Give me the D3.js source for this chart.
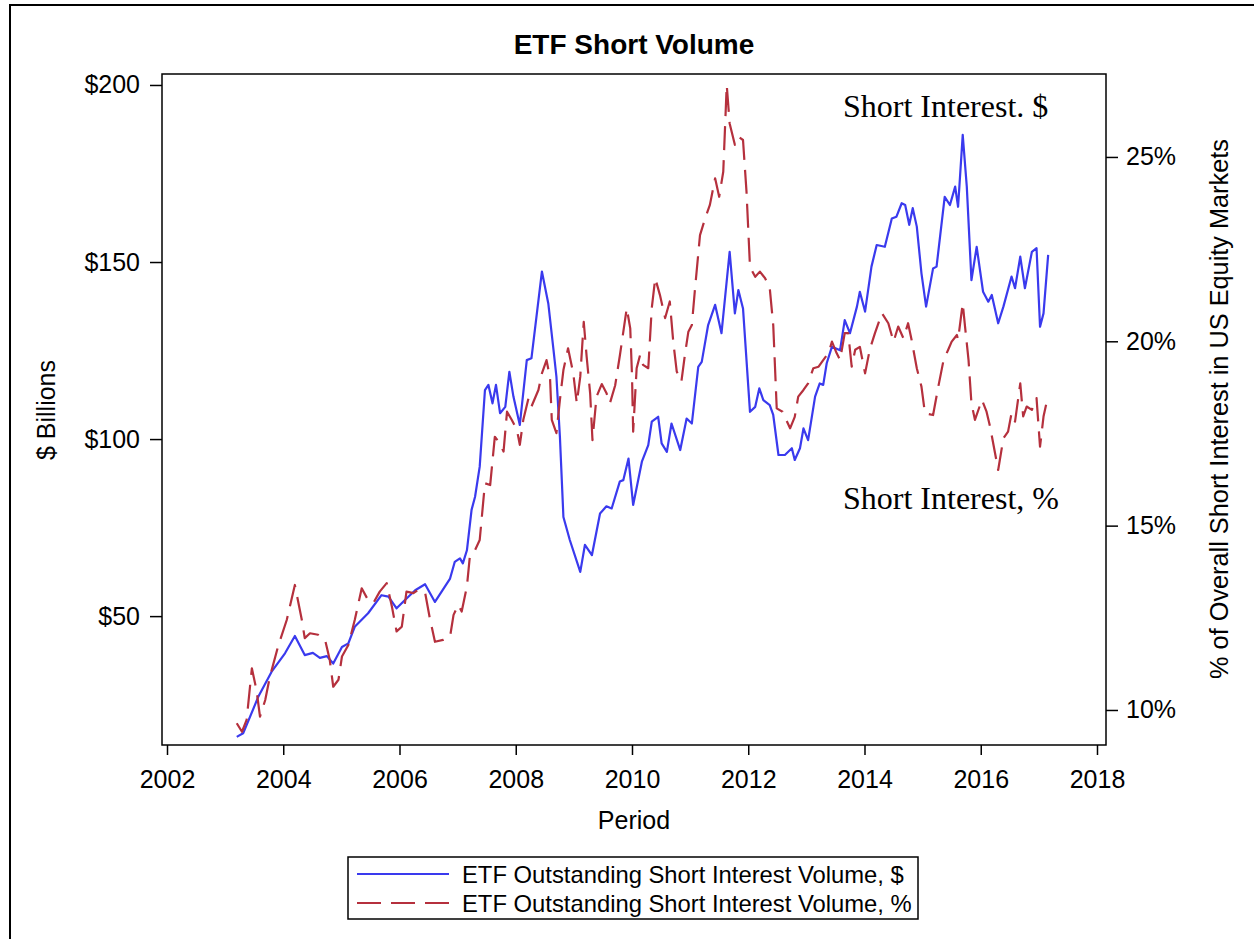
<!DOCTYPE html>
<html>
<head>
<meta charset="utf-8">
<script src="https://cdn.jsdelivr.net/npm/d3@7"></script>
<style>
	body { margin: 0; background: #fff; }
	text { font-family: "Liberation Sans", Arial, sans-serif; fill: #000; }
	.note { font-family: "Liberation Serif", "Times New Roman", serif; }
</style>
</head>
<body>
<svg id="chart" width="1254" height="939"></svg>
<script>
var title = 'ETF Short Volume';
var xLabel = 'Period';
var leftLabel = '$ Billions';
var rightLabel = '% of Overall Short Interest in US Equity Markets';
var legendLabels = ['ETF Outstanding Short Interest Volume, $', 'ETF Outstanding Short Interest Volume, %'];
var notes = ['Short Interest. $', 'Short Interest, %'];

var yearTicks = [2002, 2004, 2006, 2008, 2010, 2012, 2014, 2016, 2018];
var dollarTicks = [50, 100, 150, 200];
var pctTicks = [10, 15, 20, 25];

// short interest in $ billions
var dollarDates = [2003.20, 2003.31, 2003.57, 2003.80, 2004.03, 2004.20, 2004.37, 2004.51, 2004.63, 2004.75,
	2004.86, 2005.01, 2005.12, 2005.23, 2005.46, 2005.69, 2005.81, 2005.95, 2006.09, 2006.27,
	2006.44, 2006.61, 2006.87, 2006.95, 2007.04, 2007.09, 2007.16, 2007.24, 2007.30, 2007.38,
	2007.47, 2007.53, 2007.60, 2007.66, 2007.73, 2007.82, 2007.89, 2007.96, 2008.07, 2008.19,
	2008.27, 2008.45, 2008.56, 2008.65, 2008.70, 2008.76, 2008.82, 2008.93, 2009.11, 2009.19,
	2009.31, 2009.45, 2009.56, 2009.65, 2009.79, 2009.85, 2009.94, 2010.02, 2010.17, 2010.28,
	2010.34, 2010.45, 2010.51, 2010.60, 2010.68, 2010.83, 2010.94, 2011.03, 2011.14, 2011.20,
	2011.31, 2011.43, 2011.54, 2011.68, 2011.77, 2011.83, 2011.91, 2012.03, 2012.12, 2012.19,
	2012.26, 2012.37, 2012.43, 2012.52, 2012.63, 2012.75, 2012.80, 2012.89, 2012.95, 2013.03,
	2013.15, 2013.23, 2013.29, 2013.35, 2013.44, 2013.58, 2013.66, 2013.75, 2013.87, 2013.92,
	2014.01, 2014.12, 2014.21, 2014.35, 2014.47, 2014.55, 2014.64, 2014.70, 2014.77, 2014.83,
	2014.90, 2014.98, 2015.06, 2015.18, 2015.24, 2015.38, 2015.47, 2015.56, 2015.61, 2015.69,
	2015.76, 2015.84, 2015.93, 2016.04, 2016.13, 2016.19, 2016.30, 2016.39, 2016.53, 2016.59,
	2016.68, 2016.76, 2016.88, 2016.96, 2017.02, 2017.08, 2017.16];
var dollarValues = [15.9, 16.9, 27.2, 34.3, 39.5, 44.4, 39.0, 39.6, 38.2, 38.7,
	36.6, 41.3, 42.3, 47.0, 50.8, 55.9, 55.5, 52.2, 54.5, 57.3,
	59.0, 54.0, 60.6, 65.3, 66.3, 64.9, 68.6, 80.0, 83.7, 92.2,
	113.8, 115.3, 110.1, 115.3, 107.3, 109.1, 119.0, 112.0, 104.0, 122.3,
	122.8, 147.3, 138.3, 125.1, 117.6, 100.6, 78.0, 71.5, 62.5, 70.1,
	67.2, 79.0, 81.0, 80.4, 88.0, 88.4, 94.5, 81.4, 93.6, 98.3,
	104.9, 106.3, 98.8, 96.4, 104.4, 96.9, 105.8, 104.4, 120.4, 121.8,
	132.2, 137.9, 129.9, 152.9, 135.5, 142.1, 136.9, 107.7, 109.1, 114.3,
	111.0, 109.6, 106.8, 95.5, 95.5, 97.4, 94.1, 97.4, 103.0, 99.7,
	112.0, 115.7, 115.3, 121.4, 126.1, 125.1, 133.6, 129.9, 137.4, 141.6,
	136.0, 148.7, 154.8, 154.3, 162.3, 162.8, 166.6, 166.1, 160.5, 165.2,
	160.0, 146.8, 137.4, 148.2, 148.7, 168.4, 166.1, 171.3, 165.6, 185.9,
	171.3, 144.9, 154.3, 141.6, 138.8, 140.7, 132.7, 137.4, 145.9, 142.6,
	151.5, 142.6, 152.9, 153.9, 131.7, 135.5, 152.0];

// share of overall US short interest, %
var pctDates = [2003.20, 2003.29, 2003.37, 2003.46, 2003.54, 2003.60, 2003.69, 2003.77, 2003.91, 2004.06,
	2004.20, 2004.32, 2004.37, 2004.46, 2004.60, 2004.72, 2004.80, 2004.86, 2004.95, 2005.01,
	2005.12, 2005.23, 2005.35, 2005.46, 2005.55, 2005.66, 2005.78, 2005.87, 2005.95, 2006.04,
	2006.12, 2006.24, 2006.32, 2006.44, 2006.52, 2006.61, 2006.75, 2006.87, 2006.93, 2007.01,
	2007.07, 2007.16, 2007.21, 2007.30, 2007.38, 2007.47, 2007.56, 2007.64, 2007.73, 2007.79,
	2007.85, 2007.93, 2008.02, 2008.07, 2008.13, 2008.22, 2008.27, 2008.39, 2008.45, 2008.53,
	2008.59, 2008.62, 2008.70, 2008.76, 2008.82, 2008.90, 2008.99, 2009.05, 2009.11, 2009.17,
	2009.22, 2009.28, 2009.32, 2009.39, 2009.48, 2009.56, 2009.62, 2009.71, 2009.79, 2009.91,
	2009.97, 2010.00, 2010.02, 2010.08, 2010.14, 2010.19, 2010.28, 2010.34, 2010.40, 2010.48,
	2010.57, 2010.65, 2010.71, 2010.77, 2010.85, 2010.91, 2010.97, 2011.03, 2011.08, 2011.17,
	2011.26, 2011.34, 2011.43, 2011.50, 2011.57, 2011.63, 2011.68, 2011.77, 2011.83, 2011.91,
	2011.97, 2012.03, 2012.12, 2012.20, 2012.29, 2012.37, 2012.43, 2012.49, 2012.59, 2012.72,
	2012.80, 2012.86, 2012.95, 2013.03, 2013.12, 2013.21, 2013.29, 2013.38, 2013.44, 2013.52,
	2013.58, 2013.66, 2013.72, 2013.78, 2013.84, 2013.92, 2014.01, 2014.09, 2014.18, 2014.30,
	2014.41, 2014.50, 2014.58, 2014.67, 2014.75, 2014.81, 2014.90, 2014.98, 2015.04, 2015.18,
	2015.27, 2015.36, 2015.44, 2015.50, 2015.59, 2015.61, 2015.69, 2015.73, 2015.79, 2015.84,
	2015.90, 2016.02, 2016.10, 2016.16, 2016.30, 2016.39, 2016.47, 2016.53, 2016.59, 2016.68,
	2016.73, 2016.79, 2016.88, 2016.96, 2017.02, 2017.08, 2017.16];
var pctValues = [9.64, 9.41, 9.73, 11.13, 10.54, 9.82, 10.27, 10.90, 11.72, 12.44,
	13.39, 12.44, 11.95, 12.08, 12.04, 11.90, 11.36, 10.63, 10.82, 11.45,
	11.76, 12.44, 13.30, 12.98, 12.90, 13.21, 13.44, 12.80, 12.13, 12.26,
	13.21, 13.17, 13.26, 13.19, 12.50, 11.85, 11.90, 11.99, 12.58, 12.85,
	12.67, 13.35, 14.16, 14.34, 14.61, 16.15, 16.10, 17.41, 17.23, 17.01,
	18.09, 17.87, 17.60, 17.19, 17.87, 18.46, 18.23, 18.68, 19.13, 19.49,
	19.00, 17.87, 17.51, 18.41, 19.22, 19.81, 19.13, 18.32, 19.04, 20.53,
	19.58, 18.59, 17.32, 18.50, 18.84, 18.60, 18.32, 18.80, 19.60, 20.90,
	20.35, 19.09, 17.55, 19.27, 19.63, 19.36, 19.27, 20.90, 21.71, 21.26,
	20.63, 21.08, 19.99, 19.18, 18.91, 19.63, 20.26, 20.44, 21.35, 22.88,
	23.34, 23.70, 24.42, 23.92, 24.60, 26.95, 25.91, 25.33, 25.55, 25.46,
	24.06, 22.02, 21.75, 21.89, 21.71, 21.44, 20.44, 18.18, 18.09, 17.64,
	17.95, 18.50, 18.68, 18.86, 19.27, 19.31, 19.49, 19.68, 19.99, 19.68,
	19.49, 20.22, 20.22, 19.31, 19.77, 19.85, 19.13, 19.77, 20.22, 20.76,
	20.49, 19.99, 20.40, 20.08, 20.49, 20.04, 19.27, 18.77, 18.05, 18.00,
	18.77, 19.49, 19.77, 19.99, 20.17, 20.04, 21.03, 20.40, 19.49, 18.32,
	17.87, 18.41, 18.09, 17.69, 16.51, 17.37, 17.55, 18.05, 17.82, 18.86,
	17.96, 18.23, 18.14, 18.46, 17.14, 17.96, 18.54];

var blue = '#3a3aee';
var red = '#b5303d';
var dash = '24,10';

var frame = { left: 162, top: 74, right: 1106, bottom: 745 };

var svg = d3.select('#chart');

var x = d3.scaleLinear().domain([2001.914, 2018.155]).range([frame.left, frame.right]);
var yDollar = d3.scaleLinear().domain([13.6, 203.1]).range([frame.bottom, frame.top]);
var yPct = d3.scaleLinear().domain([9.05, 27.25]).range([frame.bottom, frame.top]);

// outer border of the picture (top and left only are visible)
svg.append('path')
	.attr('d', 'M10,939V5H1254')
	.attr('fill', 'none')
	.attr('stroke', '#000')
	.attr('stroke-width', 2);

svg.append('text')
	.attr('x', (frame.left + frame.right) / 2)
	.attr('y', 54)
	.attr('text-anchor', 'middle')
	.style('font-size', '28px')
	.style('font-weight', 'bold')
	.text(title);

var styleAxis = function(g) {
	g.select('.domain').remove();
	g.selectAll('.tick line').attr('stroke', '#000').attr('stroke-width', 1.5);
	g.selectAll('.tick text').style('font-size', '25px').attr('fill', '#000');
}

svg.append('g')
	.attr('transform', 'translate(0,' + frame.bottom + ')')
	.call(d3.axisBottom(x).tickValues(yearTicks).tickFormat(d3.format('d')).tickSize(10).tickPadding(15))
	.call(styleAxis);

svg.append('g')
	.attr('transform', 'translate(' + frame.left + ',0)')
	.call(d3.axisLeft(yDollar).tickValues(dollarTicks).tickFormat(function(d) { return '$' + d; }).tickSize(12).tickPadding(10))
	.call(styleAxis);

svg.append('g')
	.attr('transform', 'translate(' + frame.right + ',0)')
	.call(d3.axisRight(yPct).tickValues(pctTicks).tickFormat(function(d) { return d + '%'; }).tickSize(12).tickPadding(8))
	.call(styleAxis);

svg.append('text')
	.attr('x', (frame.left + frame.right) / 2)
	.attr('y', 829)
	.attr('text-anchor', 'middle')
	.style('font-size', '25px')
	.text(xLabel);

svg.append('text')
	.attr('transform', 'translate(55,410) rotate(-90)')
	.attr('text-anchor', 'middle')
	.style('font-size', '25px')
	.text(leftLabel);

svg.append('text')
	.attr('transform', 'translate(1228,409) rotate(-90)')
	.attr('text-anchor', 'middle')
	.style('font-size', '25.3px')
	.text(rightLabel);

var dollarLine = d3.line()
	.x(function(d) { return x(d[0]); })
	.y(function(d) { return yDollar(d[1]); });

var pctLine = d3.line()
	.x(function(d) { return x(d[0]); })
	.y(function(d) { return yPct(d[1]); });

svg.append('path')
	.datum(d3.zip(dollarDates, dollarValues))
	.attr('d', dollarLine)
	.attr('fill', 'none')
	.attr('stroke', blue)
	.attr('stroke-width', 2.2)
	.attr('stroke-linejoin', 'round');

svg.append('path')
	.datum(d3.zip(pctDates, pctValues))
	.attr('d', pctLine)
	.attr('fill', 'none')
	.attr('stroke', red)
	.attr('stroke-width', 2.2)
	.attr('stroke-dasharray', dash)
	.attr('stroke-linejoin', 'round');

svg.append('rect')
	.attr('x', frame.left)
	.attr('y', frame.top)
	.attr('width', frame.right - frame.left)
	.attr('height', frame.bottom - frame.top)
	.attr('fill', 'none')
	.attr('stroke', '#000')
	.attr('stroke-width', 1.5);

svg.append('text')
	.attr('class', 'note')
	.attr('x', 843)
	.attr('y', 117)
	.style('font-size', '32px')
	.text(notes[0]);

svg.append('text')
	.attr('class', 'note')
	.attr('x', 843)
	.attr('y', 509)
	.style('font-size', '32px')
	.text(notes[1]);

// legend
var legend = svg.append('g');
legend.append('rect')
	.attr('x', 348)
	.attr('y', 857)
	.attr('width', 570)
	.attr('height', 62)
	.attr('fill', 'none')
	.attr('stroke', '#000')
	.attr('stroke-width', 1.5);

var legendRows = [
	{ label: legendLabels[0], color: blue, dash: null, y: 874 },
	{ label: legendLabels[1], color: red, dash: dash, y: 903 }
];

legendRows.forEach(function(row) {
	legend.append('line')
		.attr('x1', 357)
		.attr('x2', 449)
		.attr('y1', row.y)
		.attr('y2', row.y)
		.attr('stroke', row.color)
		.attr('stroke-width', 2)
		.attr('stroke-dasharray', row.dash);
	legend.append('text')
		.attr('x', 462)
		.attr('y', row.y + 9)
		.style('font-size', '23.8px')
		.text(row.label);
});
</script>
</body>
</html>
